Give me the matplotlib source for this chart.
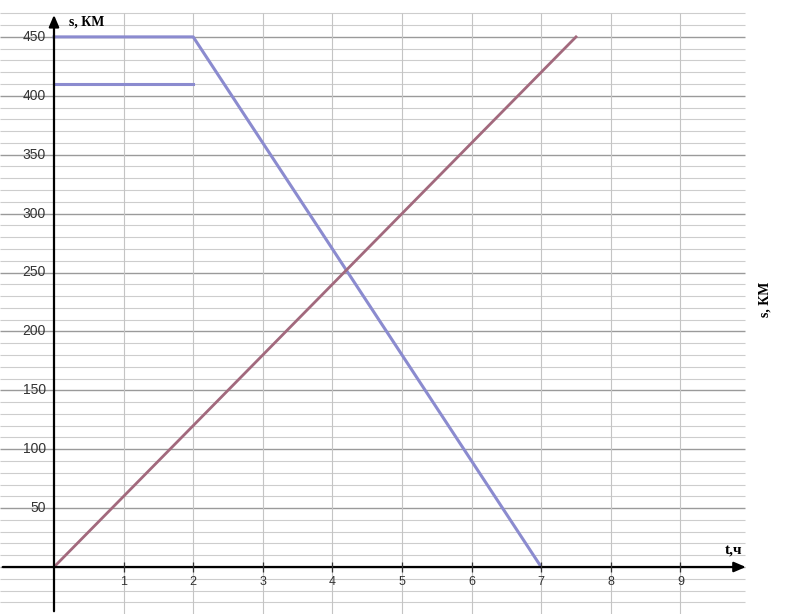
import matplotlib
matplotlib.use("Agg")
import matplotlib.pyplot as plt
import numpy as np

# graph of two motions, s(t)
t_first = [0, 2, 7]
s_first = [450, 450, 0]
t_wait = [0, 2]
s_wait = [410, 410]
t_second = [0, 7.5]
s_second = [0, 450]

x_ticks = [1, 2, 3, 4, 5, 6, 7, 8, 9]
y_ticks = [50, 100, 150, 200, 250, 300, 350, 400, 450]

fig = plt.figure(figsize=(8.02, 6.14), dpi=100, facecolor="white")
ax = fig.add_axes([0, 0, 1, 1])
ax.set_xlim(-54 / 69.6, (802 - 54) / 69.6)
ax.set_ylim(-47 / 1.178, 567 / 1.178)
ax.axis("off")

x_left, x_right = -54 / 69.6, 9.93
y_bottom, y_top = -47 / 1.178, 470

# grid every 10 km, darker every 50 km
for level in np.arange(-30, 471, 10):
    major = level % 50 == 0
    ax.hlines(level, x_left, x_right, color="#9a9a9a" if major else "#cdcdcd",
              lw=1.0 if major else 0.8, zorder=1)
for hour in x_ticks:
    ax.vlines(hour, y_bottom, y_top, color="#c4c4c4", lw=0.8, zorder=1)

# axes with arrows
ax.annotate("", xy=(0, 471), xytext=(0, y_bottom),
            arrowprops=dict(arrowstyle="-|>,head_length=0.7,head_width=0.3",
                            color="black", lw=1.6), zorder=4)
ax.annotate("", xy=(9.98, 0), xytext=(x_left, 0),
            arrowprops=dict(arrowstyle="-|>,head_length=0.7,head_width=0.3",
                            color="black", lw=1.6), zorder=4)

for hour in x_ticks:
    ax.vlines(hour, -4, 4, color="#333333", lw=0.9, zorder=4)
    ax.text(hour, -13, str(hour), ha="center", va="center", fontsize=9,
            color="#333333", family="Liberation Sans")
for level in y_ticks:
    ax.text(-0.12, level, str(level), ha="right", va="center", fontsize=10,
            color="#333333", family="Liberation Sans")

ax.plot(t_first, s_first, color="#8b8bcf", lw=2.2, zorder=3)
ax.plot(t_wait, s_wait, color="#8b8bcf", lw=2.2, zorder=3)
ax.plot(t_second, s_second, color="#a2697d", lw=2.0, zorder=3)

ax.text(0.22, 463, "s, КМ", ha="left", va="center", fontsize=10,
        fontweight="bold", family="Liberation Serif")
ax.text(9.77, 14, "t,ч", ha="center", va="center", fontsize=11,
        fontweight="bold", family="Liberation Serif")
ax.text(10.22, 227, "s, КМ", ha="center", va="center", fontsize=10,
        fontweight="bold", family="Liberation Serif", rotation=90)

fig.savefig("out.png", dpi=100, facecolor="white")
